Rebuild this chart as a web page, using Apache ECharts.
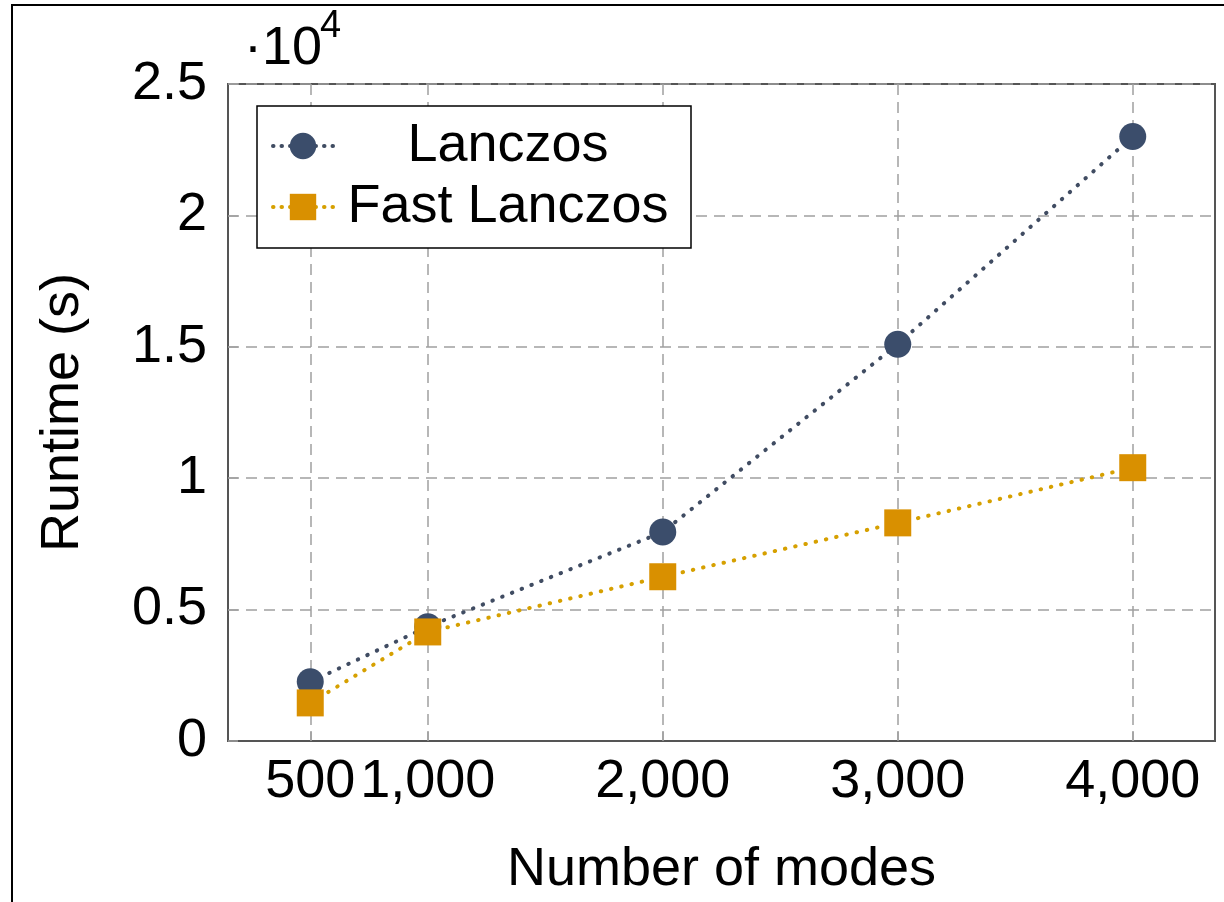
<!DOCTYPE html>
<html>
<head>
<meta charset="utf-8">
<script src="https://cdn.jsdelivr.net/npm/echarts@6/dist/echarts.min.js"></script>
<style>
  html, body { margin: 0; padding: 0; background: #ffffff; }
  #chart { width: 1224px; height: 902px; }
</style>
</head>
<body>
<div id="chart"></div>
<script>
// ---- data ----
const modes = [500, 1000, 2000, 3000, 4000];
const lanczos = [2250, 4350, 7950, 15100, 23000];
const fastLanczos = [1450, 4150, 6250, 8300, 10400];
const seriesNames = ['Lanczos', 'Fast Lanczos'];
const xTickValues = [500, 1000, 2000, 3000, 4000];
const xTickLabels = ['500', '1,000', '2,000', '3,000', '4,000'];
const yTickLabels = ['0', '0.5', '1', '1.5', '2', '2.5'];
const yScaleLabel = '·10';
const yScaleExp = '4';

const FONT = 'Liberation Sans';
const BLUE = '#3b4d6b';
const BLUE_LINE = '#404c62';
const ORANGE = '#d99000';
const ORANGE_LINE = '#d6a000';
const GRIDC = '#a0a0a0';
const AXISC = '#555555';

const chart = echarts.init(document.getElementById('chart'), null, { renderer: 'canvas' });

function pairs(xs, ys) { return xs.map((x, i) => [x, ys[i]]); }

const option = {
  animation: false,
  backgroundColor: '#ffffff',
  textStyle: { fontFamily: FONT },
  grid: {
    left: 228, right: 9, top: 84, bottom: 160,
    show: true, borderColor: AXISC, borderWidth: 2, backgroundColor: 'transparent'
  },
  graphic: [
    { type: 'rect', shape: { x: 12, y: 5, width: 1400, height: 1100 }, style: { fill: 'none', stroke: '#000', lineWidth: 2 }, silent: true, z: 0 },
    { type: 'text', left: 244, top: 22, style: { text: yScaleLabel, font: '54px "Liberation Sans"', fill: '#000' }, z: 10 },
    { type: 'text', left: 320, top: 8, style: { text: yScaleExp, font: '38px "Liberation Sans"', fill: '#000' }, z: 10 }
  ],
  legend: {
    orient: 'vertical',
    left: 257, top: 106,
    padding: [13, 13, 14, 14],
    itemGap: 7,
    itemWidth: 60,
    itemHeight: 33,
    borderColor: '#000', borderWidth: 1.5, backgroundColor: '#fff',
    lineStyle: { type: [0.5, 8], width: 4, cap: 'round' },
    data: seriesNames,
    formatter: function (name) { return '{t|' + name + '}'; },
    textStyle: {
      rich: { t: { width: 340, align: 'center', fontSize: 54, lineHeight: 54, fontFamily: FONT, color: '#000' } }
    }
  },
  xAxis: {
    type: 'value', min: 150, max: 4350,
    name: 'Number of modes', nameLocation: 'middle', nameGap: 102,
    nameTextStyle: { fontSize: 54, color: '#000', fontFamily: FONT },
    axisLine: { show: true, lineStyle: { color: AXISC, width: 2 } },
    axisTick: { show: true, inside: true, length: 10, customValues: xTickValues, lineStyle: { color: GRIDC, width: 1.5 } },
    axisLabel: {
      customValues: xTickValues, margin: 14, fontSize: 54, color: '#000', fontFamily: FONT,
      formatter: function (v) { const i = xTickValues.indexOf(v); return i >= 0 ? xTickLabels[i] : ''; }
    },
    splitLine: { show: true, lineStyle: { color: GRIDC, width: 1.5, type: [11, 7] } }
  },
  yAxis: {
    type: 'value', min: 0, max: 25000, interval: 5000,
    name: 'Runtime (s)', nameLocation: 'middle', nameGap: 138, nameRotate: 90,
    nameTextStyle: { fontSize: 54, color: '#000', fontFamily: FONT },
    axisLine: { show: true, lineStyle: { color: AXISC, width: 2 } },
    axisTick: { show: true, inside: true, length: 10, lineStyle: { color: GRIDC, width: 1.5 } },
    axisLabel: {
      margin: 21, fontSize: 54, color: '#000', fontFamily: FONT,
      formatter: function (v) { return yTickLabels[Math.round(v / 5000)]; }
    },
    splitLine: { show: true, lineStyle: { color: GRIDC, width: 1.5, type: [11, 7] } }
  },
  series: [
    {
      name: seriesNames[0], type: 'line', data: pairs(modes, lanczos),
      symbol: 'circle', symbolSize: 27,
      itemStyle: { color: BLUE },
      lineStyle: { color: BLUE_LINE, width: 4, type: [0.5, 10], cap: 'round' },
      z: 3
    },
    {
      name: seriesNames[1], type: 'line', data: pairs(modes, fastLanczos),
      symbol: 'rect', symbolSize: 27,
      itemStyle: { color: ORANGE },
      lineStyle: { color: ORANGE_LINE, width: 4, type: [0.5, 10], cap: 'round' },
      z: 4
    }
  ]
};
chart.setOption(option);
</script>
</body>
</html>
